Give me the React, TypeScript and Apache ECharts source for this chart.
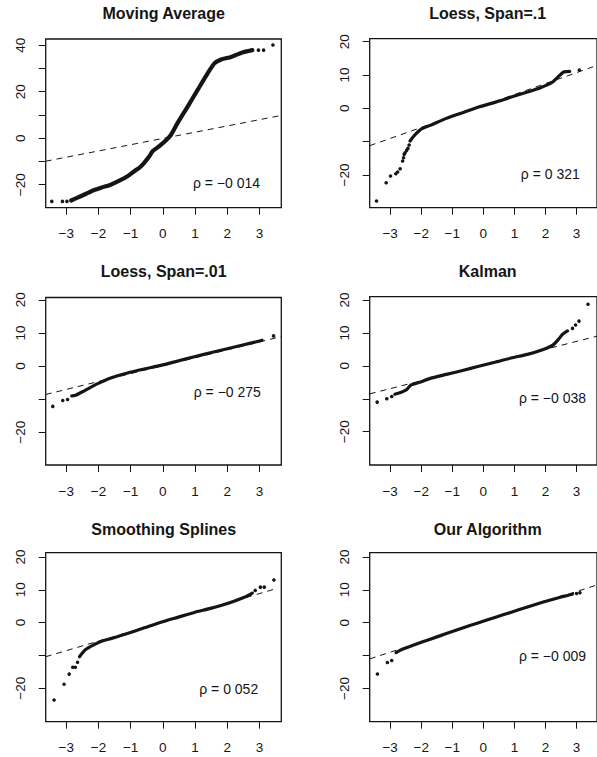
import React, { useEffect, useRef } from "react";
import * as echarts from "echarts";

// ---------- data ----------
const titles = [
  "Moving Average",
  "Loess, Span=.1",
  "Loess, Span=.01",
  "Kalman",
  "Smoothing Splines",
  "Our Algorithm",
];
const rhoLabels = [
  "ρ = −0 014",
  "ρ = 0 321",
  "ρ = −0 275",
  "ρ = −0 038",
  "ρ = 0 052",
  "ρ = −0 009",
];
const xTicks = [-3, -2, -1, 0, 1, 2, 3];
const yTicksWide = [-20, -10, 0, 10, 20, 30, 40];
const yLabelsWide = [-20, 0, 20, 40];
const yTicksStd = [-20, -10, 0, 10, 20];
const yLabelsStd = [-20, 0, 10, 20];

// Moving Average
const curve1 = [
  [-2.85, -26.8], [-2.67, -25.7], [-2.4, -24.0], [-2.15, -22.4], [-1.9, -21.2],
  [-1.62, -20.0], [-1.35, -18.3], [-1.1, -16.4], [-0.89, -14.2], [-0.72, -12.6],
  [-0.58, -10.6], [-0.42, -7.8], [-0.32, -5.6], [-0.11, -3.4], [0.1, -0.9],
  [0.26, 1.6], [0.46, 6.6], [0.78, 13.8], [1.09, 21.0], [1.4, 28.1],
  [1.6, 32.2], [1.81, 33.9], [2.12, 35.0], [2.45, 36.8], [2.78, 37.9],
];
const tails1 = [[-3.45, -27.2], [-3.12, -27.2], [-2.98, -27.2], [2.97, 37.9], [3.13, 37.9], [3.42, 40.1]];
const ref1 = [[-3.64, -9.9], [3.68, 9.8]];

// Loess, Span=.1
const curve2 = [
  [-2.36, -9.8], [-2.24, -8.3], [-1.98, -6.1], [-1.71, -5.1], [-1.19, -3.0],
  [-0.67, -1.3], [-0.15, 0.4], [0.37, 1.8], [0.9, 3.4], [1.42, 4.9],
  [1.84, 6.2], [2.2, 7.7], [2.41, 9.5], [2.59, 10.9], [2.78, 11.1],
];
const tails2 = [
  [-3.44, -27.8], [-3.13, -22.3], [-2.99, -20.3], [-2.82, -19.6], [-2.76, -19.1],
  [-2.68, -18.1], [-2.6, -15.8], [-2.57, -14.8], [-2.55, -13.8], [-2.52, -13.3],
  [-2.47, -12.6], [-2.43, -12.0], [-2.39, -11.0], [3.09, 11.5],
];
const ref2 = [[-3.66, -11.2], [3.66, 12.9]];

// Loess, Span=.01
const curve3 = [
  [-2.83, -9.0], [-2.73, -8.9], [-2.46, -7.6], [-2.04, -5.4], [-1.62, -3.6],
  [-1.1, -2.1], [-0.58, -0.9], [-0.06, 0.2], [0.46, 1.5], [0.98, 2.8],
  [1.51, 4.1], [2.03, 5.3], [2.55, 6.5], [2.97, 7.5], [3.08, 7.8],
];
const tails3 = [[-3.42, -12.2], [-3.11, -10.4], [-2.96, -10.1], [3.44, 9.1]];
const ref3 = [[-3.64, -8.6], [3.68, 8.9]];

// Kalman
const curve4 = [
  [-2.85, -8.6], [-2.64, -8.0], [-2.5, -7.4], [-2.43, -6.8], [-2.33, -5.8],
  [-2.02, -4.9], [-1.71, -3.8], [-1.19, -2.6], [-0.67, -1.4], [-0.15, -0.1],
  [0.37, 1.1], [0.9, 2.4], [1.42, 3.5], [1.93, 5.0], [2.24, 6.3],
  [2.45, 8.4], [2.55, 9.6], [2.71, 10.6],
];
const tails4 = [[-3.42, -11.0], [-3.11, -10.0], [-2.95, -9.3], [2.87, 11.4], [2.97, 12.4], [3.08, 13.6], [3.37, 18.7]];
const ref4 = [[-3.66, -8.5], [3.66, 9.0]];

// Smoothing Splines
const curve5 = [
  [-2.59, -10.4], [-2.41, -8.3], [-2.15, -6.8], [-1.89, -5.6], [-1.62, -4.9],
  [-1.1, -3.3], [-0.58, -1.6], [-0.06, 0.1], [0.46, 1.6], [0.98, 3.1],
  [1.51, 4.4], [2.03, 5.9], [2.55, 7.8], [2.78, 9.0],
];
const tails5 = [
  [-3.38, -23.6], [-3.07, -18.8], [-2.91, -15.7], [-2.8, -13.6], [-2.72, -13.6],
  [-2.65, -12.1], [2.87, 9.8], [3.03, 10.8], [3.15, 10.8], [3.45, 13.0],
];
const ref5 = [[-3.64, -10.4], [3.47, 10.2]];

// Our Algorithm
const curve6 = [
  [-2.81, -9.1], [-2.66, -8.3], [-2.24, -6.8], [-1.71, -5.0], [-1.19, -3.3],
  [-0.67, -1.6], [-0.15, 0.0], [0.37, 1.6], [0.9, 3.2], [1.42, 4.8],
  [1.93, 6.3], [2.45, 7.7], [2.71, 8.3], [2.87, 8.7],
];
const tails6 = [[-3.41, -15.6], [-3.09, -12.1], [-2.95, -11.5], [3.0, 8.9], [3.11, 9.1]];
const ref6 = [[-3.66, -11.0], [3.66, 11.5]];

const curves = [curve1, curve2, curve3, curve4, curve5, curve6];
const tails = [tails1, tails2, tails3, tails4, tails5, tails6];
const refs = [ref1, ref2, ref3, ref4, ref5, ref6];

// ---------- layout ----------
const FONT = "'Liberation Sans', Arial, Helvetica, sans-serif";
const INK = "#151515";
const grids = [
  { left: 45.7, top: 39, width: 235.6, height: 168.7 },
  { left: 369.7, top: 38.7, width: 236, height: 169 },
  { left: 45.7, top: 297.5, width: 235.6, height: 167.5 },
  { left: 369.7, top: 296.7, width: 236, height: 168.3 },
  { left: 45.7, top: 552.7, width: 235.6, height: 169 },
  { left: 369.7, top: 552.7, width: 236, height: 169 },
];
const xRanges = [
  [-3.64, 3.68], [-3.66, 3.66], [-3.64, 3.68], [-3.66, 3.66], [-3.64, 3.68], [-3.66, 3.66],
];
const yRanges = [
  [-29.9, 42.7], [-29.8, 20.9], [-29.9, 20.7], [-30.1, 21.0], [-30.2, 21.3], [-30.1, 21.3],
];
const titleY = [13.5, 13.5, 271.5, 271.5, 529.5, 529.5];
const rhoPos = [
  [226.5, 182.7], [550.3, 174.3], [227.3, 392.3], [552.5, 397.7], [228.7, 689.3], [552.5, 656],
];

const fmt = (v: number) => String(v).replace("-", "\u2212");

export default function App() {
  const ref = useRef<HTMLDivElement>(null);
  useEffect(() => {
    if (!ref.current) return;
    const chart = echarts.init(ref.current, undefined, { renderer: "svg" });

    const xAxis = grids.map((_, i) => ({
      type: "value",
      gridIndex: i,
      position: "bottom",
      min: xRanges[i][0],
      max: xRanges[i][1],
      axisLine: { show: false, onZero: false },
      splitLine: { show: false },
      axisTick: { show: true, customValues: xTicks, length: 7, lineStyle: { color: INK, width: 1 } },
      axisLabel: {
        customValues: xTicks,
        formatter: fmt,
        color: INK,
        fontSize: 13.5,
        fontFamily: FONT,
        margin: 19,
      },
    }));
    const yAxis = grids.map((_, i) => {
      const ticks = i === 0 ? yTicksWide : yTicksStd;
      const labels = i === 0 ? yLabelsWide : yLabelsStd;
      return {
        type: "value",
        gridIndex: i,
        position: "left",
        min: yRanges[i][0],
        max: yRanges[i][1],
        axisLine: { show: false, onZero: false },
        splitLine: { show: false },
        axisTick: { show: true, customValues: ticks, length: 7, lineStyle: { color: INK, width: 1 } },
        axisLabel: {
          customValues: labels,
          formatter: fmt,
          rotate: 90,
          color: INK,
          fontSize: 13.5,
          fontFamily: FONT,
          margin: 18,
        },
      };
    });

    const series: any[] = [];
    grids.forEach((_, i) => {
      series.push({
        type: "line",
        xAxisIndex: i,
        yAxisIndex: i,
        data: refs[i],
        showSymbol: false,
        clip: true,
        silent: true,
        lineStyle: { color: INK, width: 1, type: [6, 5] },
      });
      series.push({
        type: "line",
        xAxisIndex: i,
        yAxisIndex: i,
        data: curves[i],
        showSymbol: false,
        smooth: 0.2,
        clip: true,
        silent: true,
        lineStyle: { color: INK, width: i === 0 ? 4.2 : 3.2, cap: "round", join: "round" },
      });
      series.push({
        type: "scatter",
        xAxisIndex: i,
        yAxisIndex: i,
        data: tails[i],
        symbol: "circle",
        symbolSize: 3.6,
        clip: true,
        silent: true,
        itemStyle: { color: INK, opacity: 1 },
      });
    });

    const graphic: any[] = [];
    grids.forEach((g, i) => {
      graphic.push({
        type: "text",
        x: g.left + 118,
        y: titleY[i],
        style: {
          text: titles[i],
          font: `bold 16px ${FONT}`,
          fill: INK,
          textAlign: "center",
          textVerticalAlign: "middle",
          align: "center",
          verticalAlign: "middle",
        },
      });
      graphic.push({
        type: "text",
        x: rhoPos[i][0],
        y: rhoPos[i][1],
        style: {
          text: rhoLabels[i],
          font: `14px ${FONT}`,
          fill: INK,
          textAlign: "center",
          textVerticalAlign: "middle",
          align: "center",
          verticalAlign: "middle",
        },
      });
    });

    chart.setOption({
      animation: false,
      backgroundColor: "#ffffff",
      grid: grids.map((g) => ({
        ...g,
        show: true,
        borderColor: INK,
        borderWidth: 1.3,
        backgroundColor: "transparent",
        containLabel: false,
      })),
      xAxis,
      yAxis,
      series,
      graphic,
    });
    return () => chart.dispose();
  }, []);
  return (
    <div
      ref={ref}
      style={{ position: "absolute", left: 0, top: 0, width: 597, height: 757, background: "#fff" }}
    />
  );
}
